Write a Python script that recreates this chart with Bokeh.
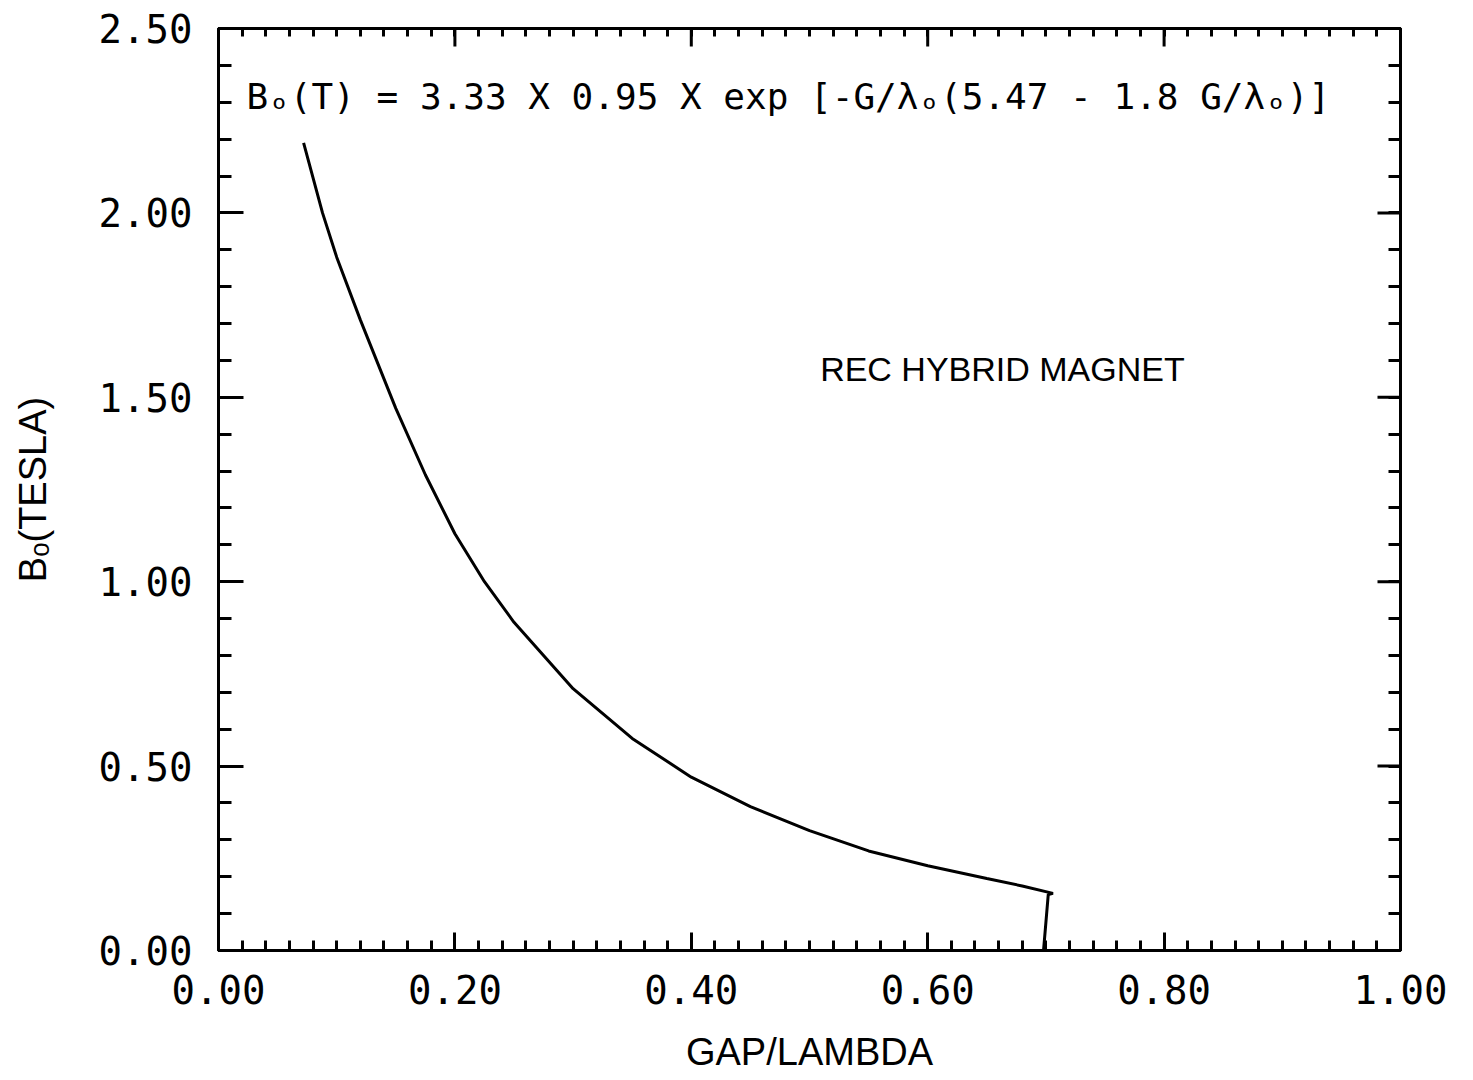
import math
from bokeh.plotting import figure
from bokeh.models import (Range1d, LinearAxis, SingleIntervalTicker, FixedTicker,
                          NumeralTickFormatter, Label)
from bokeh.embed import file_html
from bokeh.resources import INLINE

# ---- data ----
gap_lambda = [0.072, 0.088, 0.100, 0.120, 0.150, 0.175, 0.200, 0.225, 0.250, 0.275,
              0.300, 0.350, 0.400, 0.450, 0.500, 0.550, 0.600, 0.650, 0.680, 0.706,
              0.702, 0.698]
b_tesla = [2.19, 2.00, 1.88, 1.71, 1.47, 1.29, 1.13, 1.00, 0.89, 0.80,
           0.71, 0.575, 0.47, 0.39, 0.325, 0.27, 0.23, 0.195, 0.175, 0.155,
           0.152, 0.0]

x_major = [0.0, 0.2, 0.4, 0.6, 0.8, 1.0]
x_minor = [i / 50 for i in range(51)]
y_major = [0.0, 0.5, 1.0, 1.5, 2.0, 2.5]
y_minor = [i / 10 for i in range(26)]

x_label = "GAP/LAMBDA"
y_label = "Bₒ(TESLA)"
formula_text = "Bₒ(T) = 3.33 X 0.95 X exp [-G/λₒ(5.47 - 1.8 G/λₒ)]"
magnet_text = "REC HYBRID MAGNET"

MONO = "DejaVu Sans Mono"
SANS = "Liberation Sans"

p = figure(width=1473, height=1080, x_range=Range1d(0, 1), y_range=Range1d(0, 2.5),
           output_backend="svg", toolbar_location=None,
           min_border_left=218, min_border_right=73, min_border_top=28, min_border_bottom=130,
           x_axis_location=None, y_axis_location=None)
p.grid.visible = False
p.outline_line_color = "black"
p.outline_line_width = 3
p.background_fill_color = "white"
p.border_fill_color = "white"


def style_axis(ax, major_in, minor_in):
    ax.axis_line_width = 3
    ax.axis_line_color = "black"
    ax.major_tick_in = major_in
    ax.major_tick_out = 0
    ax.minor_tick_in = minor_in
    ax.minor_tick_out = 0
    ax.major_tick_line_width = 3
    ax.minor_tick_line_width = 3
    ax.major_tick_line_color = "black"
    ax.minor_tick_line_color = "black"


# labelled axes (bottom / left)
bottom = LinearAxis(ticker=SingleIntervalTicker(interval=0.2, num_minor_ticks=10),
                    formatter=NumeralTickFormatter(format="0.00"))
style_axis(bottom, 18, 10)
bottom.major_label_text_font = MONO
bottom.major_label_text_font_size = "39px"
bottom.major_label_text_color = "black"
bottom.major_label_standoff = 24
bottom.axis_label = x_label
bottom.axis_label_text_font = SANS
bottom.axis_label_text_font_size = "38px"
bottom.axis_label_text_font_style = "normal"
bottom.axis_label_text_color = "black"
bottom.axis_label_standoff = 24
p.add_layout(bottom, "below")

left = LinearAxis(ticker=SingleIntervalTicker(interval=0.5, num_minor_ticks=5),
                  formatter=NumeralTickFormatter(format="0.00"))
style_axis(left, 25, 13)
left.major_label_text_font = MONO
left.major_label_text_font_size = "39px"
left.major_label_text_color = "black"
left.major_label_standoff = 26
left.axis_label = y_label
left.axis_label_text_font = SANS
left.axis_label_text_font_size = "38px"
left.axis_label_text_font_style = "normal"
left.axis_label_text_color = "black"
left.axis_label_standoff = 42
p.add_layout(left, "left")

# unlabelled axes (top / right): minor ticks only, no label texts
top = LinearAxis(ticker=FixedTicker(ticks=[], minor_ticks=x_minor))
style_axis(top, 0, 8)
p.add_layout(top, "above")

right = LinearAxis(ticker=FixedTicker(ticks=[], minor_ticks=y_minor))
style_axis(right, 0, 12)
p.add_layout(right, "right")

# longer major ticks on top / right (dash markers clipped by the frame)
p.scatter(x_major, [2.5] * len(x_major), marker="dash", size=36, angle=math.pi / 2,
          line_color="black", line_width=3)
p.scatter([1.0] * len(y_major), y_major, marker="dash", size=46,
          line_color="black", line_width=3)

p.line(gap_lambda, b_tesla, line_color="black", line_width=3)

p.add_layout(Label(x=0.0237, y=2.316, text=formula_text, text_font=MONO,
                   text_font_size="36px", text_color="black", text_baseline="middle"))
p.add_layout(Label(x=0.509, y=1.578, text=magnet_text, text_font=SANS,
                   text_font_size="34px", text_color="black", text_baseline="middle"))

open("out.html", "w").write(file_html(p, INLINE))
